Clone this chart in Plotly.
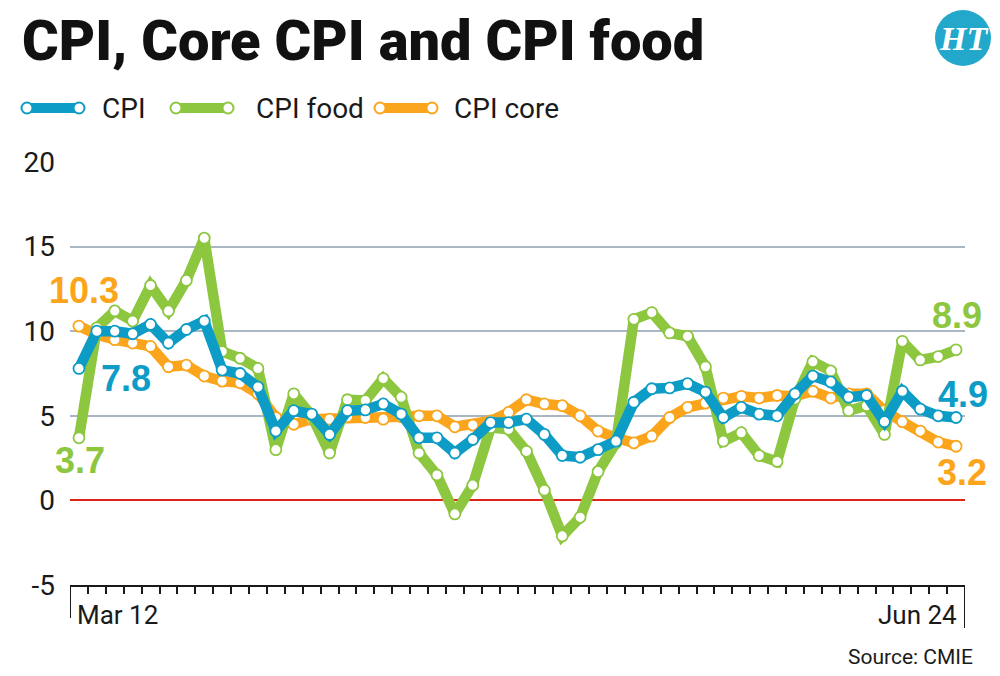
import plotly.graph_objects as go

# ---------------- data ----------------
first_label = "Mar 12"
last_label = "Jun 24"

cpi = [7.8, 10.0, 10.0, 9.85, 10.4, 9.3, 10.1, 10.6, 7.7, 7.5,
       6.7, 4.1, 5.3, 5.1, 3.9, 5.3, 5.35, 5.7, 5.1, 3.7,
       3.7, 2.8, 3.6, 4.6, 4.6, 4.8, 3.9, 2.65, 2.55, 3.0,
       3.5, 5.8, 6.6, 6.65, 6.9, 6.4, 4.9, 5.5, 5.1, 5.0,
       6.3, 7.35, 7.0, 6.1, 6.2, 4.65, 6.45, 5.4, 5.0, 4.9]

cpi_food = [3.7, 10.2, 11.2, 10.6, 12.7, 11.2, 13.0, 15.5, 8.8, 8.4,
            7.8, 3.0, 6.3, 5.0, 2.8, 5.95, 5.9, 7.2, 6.1, 2.8,
            1.5, -0.8, 0.9, 4.3, 4.2, 2.9, 0.6, -2.1, -1.0, 1.7,
            3.4, 10.7, 11.1, 9.9, 9.7, 7.9, 3.5, 4.0, 2.65, 2.3,
            6.0, 8.2, 7.65, 5.3, 5.6, 3.9, 9.4, 8.3, 8.5, 8.9]

cpi_core = [10.3, 9.8, 9.5, 9.3, 9.1, 7.9, 8.0, 7.35, 7.05, 6.95,
            6.3, 4.9, 4.5, 4.8, 4.8, 4.95, 4.9, 4.8, 4.95, 5.0,
            5.0, 4.35, 4.45, 4.7, 5.2, 5.95, 5.7, 5.6, 5.0, 4.1,
            3.7, 3.4, 3.8, 4.9, 5.5, 5.75, 6.05, 6.15, 6.05, 6.2,
            6.15, 6.45, 6.05, 6.3, 6.3, 5.3, 4.65, 4.1, 3.45, 3.2]

series_names = ["CPI", "CPI food", "CPI core"]
y_ticks = [-5, 0, 5, 10, 15, 20]
y_tick_text = ["-5", "0", "5", "10", "15", "20"]

# ---------------- style ----------------
BLUE = "#0d9cc6"
GREEN = "#8dc63f"
ORANGE = "#fba51c"
RED = "#e2231a"
GRID = "#aab6c2"
INK = "#1a1a1a"
NARROW = "Roboto, Liberation Sans, sans-serif"
BOLD = "Liberation Sans, Arial, sans-serif"

W, H = 1000, 676
ML, MR, MT, MB = 70, 35, 162, 91
PW, PH = W - ML - MR, H - MT - MB


def px2x(px):
    return (px - ML) / PW


def px2y(py):
    return (H - MB - py) / PH


n = len(cpi)
xs = list(range(n))

fig = go.Figure()


def add_series(vals, color, name):
    fig.add_trace(go.Scatter(
        x=xs, y=vals, name=name, mode="lines+markers",
        line=dict(color=color, width=10.5),
        marker=dict(size=11, color="white", line=dict(color=color, width=1.8)),
        showlegend=False, hoverinfo="x+y",
    ))


add_series(cpi_core, ORANGE, series_names[2])
add_series(cpi_food, GREEN, series_names[1])
add_series(cpi, BLUE, series_names[0])

shapes = []
annotations = []

# end ticks of the x axis
shapes.append(dict(type="line", xref="x", yref="paper", x0=-0.5, x1=-0.5,
                   y0=0, y1=-33 / PH, line=dict(color=INK, width=2)))
shapes.append(dict(type="line", xref="x", yref="paper", x0=n - 0.5, x1=n - 0.5,
                   y0=0, y1=-43 / PH, line=dict(color=INK, width=2)))

# x labels
annotations.append(dict(text=first_label, xref="paper", yref="paper",
                        x=px2x(75), y=px2y(615), xanchor="left", yanchor="middle",
                        showarrow=False, font=dict(family=NARROW, size=26, color=INK)))
annotations.append(dict(text=last_label, xref="paper", yref="paper",
                        x=px2x(959), y=px2y(615), xanchor="right", yanchor="middle",
                        showarrow=False, font=dict(family=NARROW, size=26, color=INK)))

# source
annotations.append(dict(text="Source: CMIE", xref="paper", yref="paper",
                        x=px2x(975), y=px2y(657), xanchor="right", yanchor="middle",
                        showarrow=False, font=dict(family=NARROW, size=21, color=INK)))

# title
annotations.append(dict(text="CPI, Core CPI and CPI food", xref="paper", yref="paper",
                        x=px2x(20), y=px2y(41), xanchor="left", yanchor="middle",
                        showarrow=False,
                        font=dict(family=NARROW, size=56, color="#111111", weight=900)))

# HT logo
shapes.append(dict(type="circle", xref="paper", yref="paper",
                   xsizemode="pixel", ysizemode="pixel",
                   xanchor=px2x(963), yanchor=px2y(38),
                   x0=-28, x1=28, y0=-28, y1=28,
                   fillcolor="#23a8cc", line=dict(width=0)))
annotations.append(dict(text="<b><i>HT</i></b>", xref="paper", yref="paper",
                        x=px2x(963), y=px2y(39), xanchor="center", yanchor="middle",
                        showarrow=False,
                        font=dict(family="Liberation Serif, DejaVu Serif, serif", size=34, color="white")))

# custom legend
legend_items = [(series_names[0], BLUE, 22, 101), (series_names[1], GREEN, 171, 255),
                (series_names[2], ORANGE, 375, 453)]
LY = 108
for name, color, x0, tx in legend_items:
    shapes.append(dict(type="line", xref="paper", yref="paper",
                       x0=px2x(x0 + 4), x1=px2x(x0 + 58), y0=px2y(LY), y1=px2y(LY),
                       line=dict(color=color, width=10)))
    for cx in (x0 + 5, x0 + 57):
        shapes.append(dict(type="circle", xref="paper", yref="paper",
                           xsizemode="pixel", ysizemode="pixel",
                           xanchor=px2x(cx), yanchor=px2y(LY),
                           x0=-5.5, x1=5.5, y0=-5.5, y1=5.5,
                           fillcolor="white", line=dict(color=color, width=2)))
    annotations.append(dict(text=name, xref="paper", yref="paper",
                            x=px2x(tx - 1), y=px2y(LY), xanchor="left", yanchor="middle",
                            showarrow=False, font=dict(family=NARROW, size=28, color=INK)))


# value labels
def value_label(i, vals, color, dx, dy):
    annotations.append(dict(text=f"<b>{vals[i]:.1f}</b>", xref="x", yref="y",
                            x=xs[i], y=vals[i], xshift=dx, yshift=dy,
                            xanchor="center", yanchor="middle", showarrow=False,
                            font=dict(family=BOLD, size=36, color=color)))


value_label(0, cpi_core, ORANGE, 5, 36)
value_label(0, cpi, BLUE, 47, -10)
value_label(0, cpi_food, GREEN, 1, -23)
value_label(n - 1, cpi_food, GREEN, 1, 34)
value_label(n - 1, cpi, BLUE, 7, 23)
value_label(n - 1, cpi_core, ORANGE, 6, -26)

fig.update_layout(
    width=W, height=H,
    margin=dict(l=ML, r=MR, t=MT, b=MB),
    paper_bgcolor="white", plot_bgcolor="white",
    shapes=shapes, annotations=annotations,
    showlegend=False,
    xaxis=dict(range=[-0.5, n - 0.5], showgrid=False, zeroline=False,
               tickvals=[i + 0.5 for i in range(n - 1)], showticklabels=False,
               ticks="outside", ticklen=7, tickwidth=2, tickcolor=INK,
               showline=True, linecolor=INK, linewidth=2, fixedrange=True),
    yaxis=dict(range=[-5, 20], tickvals=y_ticks, ticktext=y_tick_text,
               showgrid=True, gridcolor=GRID, gridwidth=2,
               zeroline=True, zerolinecolor=RED, zerolinewidth=2,
               ticks="", ticklabelstandoff=14,
               tickfont=dict(family=NARROW, size=28, color=INK),
               showline=False, fixedrange=True),
)

fig.write_html("out.html")
